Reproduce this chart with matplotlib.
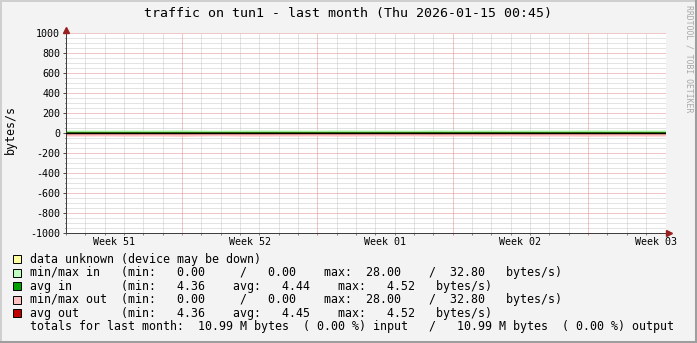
import matplotlib
matplotlib.use("Agg")
import matplotlib.pyplot as plt
from matplotlib.patches import Rectangle
from matplotlib.lines import Line2D
from matplotlib.ticker import MultipleLocator, FixedLocator, NullFormatter
import matplotlib.transforms as mtransforms

# ---------------- data ----------------
days = list(range(32))
max_in = [29.5, 30.2, 28.7, 31.0, 29.9, 30.4, 32.8, 29.1, 28.0, 30.6, 31.2, 29.8, 30.0, 28.9, 31.5, 30.7,
          29.3, 30.1, 28.4, 31.8, 30.2, 29.6, 30.9, 28.8, 31.1, 30.3, 29.7, 32.1, 30.5, 29.2, 30.8, 30.0]
min_in = [0.0] * 32
avg_in = [4.40, 4.45, 4.38, 4.47, 4.44, 4.42, 4.52, 4.41, 4.36, 4.46, 4.49, 4.43, 4.44, 4.39, 4.50, 4.46,
          4.42, 4.45, 4.37, 4.51, 4.45, 4.43, 4.47, 4.39, 4.48, 4.45, 4.43, 4.50, 4.46, 4.41, 4.47, 4.44]
max_out = [29.8, 30.0, 28.9, 31.2, 30.1, 30.2, 32.8, 29.4, 28.0, 30.8, 31.0, 29.9, 30.2, 29.1, 31.4, 30.5,
           29.5, 30.3, 28.6, 31.6, 30.4, 29.8, 30.7, 29.0, 31.3, 30.1, 29.9, 32.0, 30.3, 29.4, 30.6, 30.2]
min_out = [0.0] * 32
avg_out = [4.41, 4.46, 4.38, 4.48, 4.45, 4.43, 4.52, 4.42, 4.36, 4.47, 4.49, 4.44, 4.45, 4.40, 4.50, 4.47,
           4.43, 4.46, 4.38, 4.51, 4.46, 4.44, 4.48, 4.40, 4.49, 4.46, 4.44, 4.50, 4.47, 4.42, 4.48, 4.45]

week_labels = ["Week 51", "Week 52", "Week 01", "Week 02", "Week 03"]
week_label_pos = [2.5, 9.5, 16.5, 23.5, 30.5]
week_grid = [6, 13, 20, 27]
y_ticks = [-1000, -800, -600, -400, -200, 0, 200, 400, 600, 800, 1000]

title = "traffic on tun1 - last month (Thu 2026-01-15 00:45)"
legend_rows = [
    ("#FFFFA0", "data unknown (device may be down)"),
    ("#C0FFC0", "min/max in   (min:   0.00     /   0.00    max:  28.00    /  32.80   bytes/s)"),
    ("#00A000", "avg in       (min:   4.36    avg:   4.44    max:   4.52   bytes/s)"),
    ("#FFC0C0", "min/max out  (min:   0.00     /   0.00    max:  28.00    /  32.80   bytes/s)"),
    ("#C00000", "avg out      (min:   4.36    avg:   4.45    max:   4.52   bytes/s)"),
    (None, "totals for last month:  10.99 M bytes  ( 0.00 %) input   /   10.99 M bytes  ( 0.00 %) output"),
]

# ---------------- figure ----------------
W, H = 697, 343
BG = "#F3F3F3"
fig = plt.figure(figsize=(W / 100, H / 100), dpi=100, facecolor=BG)
MONO = "DejaVu Sans Mono"

def fx(px):
    return px / W

def fy(py):
    return 1 - py / H

# frame shading
fig.add_artist(Line2D([fx(0), fx(W)], [fy(0.5), fy(0.5)], color="#CFCFCF", lw=1.4, transform=fig.transFigure))
fig.add_artist(Line2D([fx(0.5), fx(0.5)], [fy(0), fy(H)], color="#CFCFCF", lw=1.4, transform=fig.transFigure))
fig.add_artist(Line2D([fx(W - 1.5), fx(W - 1.5)], [fy(0), fy(H)], color="#9E9E9E", lw=2.2, transform=fig.transFigure))
fig.add_artist(Line2D([fx(0), fx(W)], [fy(H - 1.5), fy(H - 1.5)], color="#9E9E9E", lw=2.2, transform=fig.transFigure))

x0, x1, ytop, ybot = 66, 665.5, 33, 233
ax = fig.add_axes([fx(x0), fy(ybot), fx(x1 - x0), (ybot - ytop) / H])
ax.set_facecolor("white")
ax.set_xlim(0, 31)
ax.set_ylim(-1000, 1000)

px = 0.72
ax.yaxis.set_major_locator(FixedLocator(y_ticks))
ax.yaxis.set_minor_locator(MultipleLocator(50))
ax.xaxis.set_major_locator(FixedLocator(week_grid))
ax.xaxis.set_minor_locator(MultipleLocator(1))

# grid lines drawn explicitly: minor first, major on top
dots = (0, (1, 1))
y_minor = [v for v in range(-950, 1000, 50) if v % 200 != 0]
x_minor = [d for d in range(1, 31) if d not in week_grid]
ax.hlines(y_minor, 0, 31, colors="#C8C8C8", linestyles=[dots], lw=px, zorder=0.5)
ax.vlines(x_minor, -1000, 1000, colors="#C8C8C8", linestyles=[dots], lw=px, zorder=0.5)
ax.hlines([v for v in y_ticks if -1000 < v < 1000] + [1000], 0, 31, colors="#E08C8C",
          linestyles=[dots], lw=px, zorder=0.6)
ax.vlines(week_grid, -1000, 1000, colors="#E08C8C", linestyles=[dots], lw=px, zorder=0.6)

ax.set_yticklabels([str(v) for v in y_ticks], fontsize=7.2, family=MONO)
ax.xaxis.set_major_formatter(NullFormatter())
ax.tick_params(axis="y", which="major", length=3 * px, width=px, color="#505050", pad=2)
ax.tick_params(axis="y", which="minor", length=1.5 * px, width=px, color="#505050")
ax.tick_params(axis="x", which="major", length=2 * px, width=px, color="#E08080")
ax.tick_params(axis="x", which="minor", length=2 * px, width=px, color="#808080")

for s in ["top", "right"]:
    ax.spines[s].set_visible(False)
for s in ["left", "bottom"]:
    ax.spines[s].set_color("#404040")
    ax.spines[s].set_linewidth(px)

# data
ax.fill_between(days, [-v for v in min_out], [-v for v in max_out], color="#FFC0C0", lw=0, zorder=2)
ax.fill_between(days, min_in, max_in, color="#B8F8B8", lw=0, zorder=2)
ax.plot(days, avg_in, color="#00A000", lw=px * 1.4, zorder=3)
ax.plot(days, [-v for v in avg_out], color="#C00000", lw=px * 1.4, zorder=3)
ax.axhline(0, color="black", lw=px * 1.3, zorder=4)

# arrows
ax.plot([0], [1030], marker="^", ms=4.5, color="#9A2020", clip_on=False, zorder=6)
ax.plot([31.2], [-1000], marker=">", ms=4.5, color="#9A2020", clip_on=False, zorder=6)
ax.plot([31, 31.25], [-1000, -1000], color="#404040", lw=px, clip_on=False, zorder=5)

# week labels
trans = mtransforms.blended_transform_factory(ax.transData, ax.transAxes)
for pos, lab in zip(week_label_pos, week_labels):
    ax.text(pos, -8.7 / 200, lab, transform=trans, ha="center", va="center", fontsize=7.2, family=MONO)

# title, y label, watermark
fig.text(fx(348), fy(14), title, ha="center", va="center", fontsize=9.5, family=MONO)
fig.text(fx(10), fy(130), "bytes/s", rotation=90, ha="center", va="center", fontsize=8.4, family=MONO)
fig.text(fx(689), fy(5), "RRDTOOL / TOBI OETIKER", rotation=270, ha="center", va="top",
         fontsize=5.9, family=MONO, color="#A8A8A8")

# legend
row_y = [259.3, 272.8, 286.3, 299.8, 313.3, 326.8]
for (col, txt), yy in zip(legend_rows, row_y):
    if col is not None:
        fig.patches.append(Rectangle((fx(13), fy(yy + 4)), fx(8), 8 / H, transform=fig.transFigure,
                                     fc=col, ec="black", lw=0.7))
    fig.text(fx(30), fy(yy), txt, ha="left", va="center", fontsize=8.42, family=MONO)

fig.savefig("out.png", dpi=100, facecolor=BG)
